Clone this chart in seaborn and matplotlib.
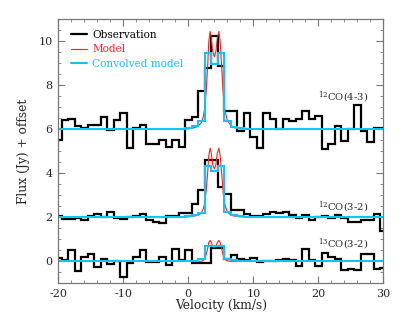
import numpy as np
import pandas as pd
import matplotlib
matplotlib.use("Agg")
import matplotlib.pyplot as plt
import seaborn as sns
from matplotlib.ticker import MultipleLocator

# ---------------- data ----------------
velocity = list(range(-20, 31))  # km/s, channel centres

obs_co43 = [5.50, 6.41, 6.48, 6.14, 6.06, 6.21, 6.18, 6.56, 5.96, 6.41,
            6.74, 5.16, 6.05, 6.18, 5.35, 5.31, 5.53, 5.20, 5.53, 5.20,
            6.41, 6.56, 7.74, 8.79, 10.23, 8.90, 6.83, 6.83, 5.93, 6.76,
            5.63, 5.13, 6.76, 6.46, 6.00, 6.46, 6.38, 6.48, 6.83, 6.46,
            6.61, 5.10, 5.33, 6.15, 5.48, 6.00, 7.09, 5.93, 5.43, 6.08, 6.08]
obs_co32 = [2.04, 1.91, 1.94, 1.97, 1.89, 2.07, 2.13, 2.00, 2.23, 1.97,
            1.91, 2.00, 2.07, 2.16, 1.86, 1.80, 1.74, 2.04, 2.07, 2.19,
            2.21, 2.62, 3.24, 4.60, 4.60, 3.36, 3.08, 2.31, 2.31, 2.16,
            2.04, 2.04, 2.16, 2.23, 2.18, 2.23, 2.10, 1.98, 2.12, 1.86,
            2.00, 2.04, 1.98, 2.12, 1.95, 1.78, 1.78, 1.88, 1.88, 2.16, 1.40]
obs_13co32 = [0.15, 0.08, 0.50, -0.45, 0.20, 0.35, -0.25, 0.12, -0.12, 0.02,
              -0.72, -0.06, 0.18, 0.50, -0.03, -0.05, 0.18, -0.18, 0.54, 0.05,
              0.50, -0.06, -0.06, -0.06, 0.62, 0.62, 0.12, 0.30, 0.12, 0.07,
              0.15, -0.03, 0.00, 0.00, 0.05, 0.12, 0.05, -0.20, 0.55, 0.05,
              -0.20, 0.40, 0.20, 0.12, -0.40, -0.35, -0.40, 0.35, 0.35, -0.35, -0.30]

conv_co43 = [6.00] * 19 + [6.02, 6.05, 6.15, 6.38, 9.47, 8.97, 9.47, 6.40, 6.12, 6.05, 6.02] + [6.00] * 21
conv_co32 = [2.00] * 18 + [2.01, 2.03, 2.06, 2.10, 2.20, 4.34, 4.09, 4.34, 2.22, 2.10, 2.06, 2.03, 2.01] + [2.00] * 20
conv_13co32 = [0.00] * 21 + [0.02, 0.10, 0.70, 0.70, 0.70, 0.12, 0.06, 0.03] + [0.00] * 22

model_v = [-20, 0.0, 1.0, 1.5, 2.0, 2.25, 2.5, 2.75, 3.0, 3.15, 3.35, 3.55, 3.75,
           4.0, 4.25, 4.45, 4.7, 4.9, 5.1, 5.35, 5.6, 6.0, 6.5, 7.0, 8.0, 30]
model_co43 = [6.0, 6.02, 6.08, 6.15, 6.30, 6.50, 6.90, 7.70, 9.00, 10.0, 10.45, 10.1, 9.55,
              9.30, 9.55, 10.1, 10.45, 10.0, 9.00, 7.70, 6.90, 6.40, 6.20, 6.08, 6.02, 6.0]
model_co32 = [2.0, 2.02, 2.06, 2.10, 2.20, 2.35, 2.60, 3.20, 4.10, 4.80, 5.14, 4.90, 4.40,
              4.20, 4.40, 4.90, 5.14, 4.80, 4.10, 3.20, 2.60, 2.25, 2.12, 2.06, 2.02, 2.0]
model_13co32 = [0.0, 0.0, 0.0, 0.0, 0.0, 0.03, 0.10, 0.30, 0.60, 0.85, 0.95, 0.85, 0.68,
                0.62, 0.68, 0.85, 0.95, 0.85, 0.60, 0.30, 0.10, 0.02, 0.0, 0.0, 0.0, 0.0]

line_labels = ["$^{12}$CO(4-3)", "$^{12}$CO(3-2)", "$^{13}$CO(3-2)"]
label_y = [7.45, 2.46, 0.77]

# ---------------- style ----------------
sns.set_style("ticks")
plt.rcParams["font.family"] = ["DejaVu Serif"]
plt.rcParams["axes.unicode_minus"] = False
plt.rcParams["mathtext.fontset"] = "dejavuserif"

c_obs = "#000000"
c_mod = "#ff2020"
c_conv = "#12c4f5"

fig = plt.figure(figsize=(4.02, 3.21), dpi=100)
ax = fig.add_axes([0.145, 0.1174, 0.8085, 0.8224])

obs_sets = [obs_co43, obs_co32, obs_13co32]
conv_sets = [conv_co43, conv_co32, conv_13co32]
mod_sets = [model_co43, model_co32, model_13co32]

for i in range(3):
    df_o = pd.DataFrame({"v": velocity, "f": obs_sets[i]})
    sns.lineplot(data=df_o, x="v", y="f", ax=ax, color=c_obs, lw=1.6,
                 drawstyle="steps-mid", estimator=None, sort=False,
                 label="Observation" if i == 0 else None, solid_joinstyle="miter")
for i in range(3):
    df_m = pd.DataFrame({"v": model_v, "f": mod_sets[i]})
    sns.lineplot(data=df_m, x="v", y="f", ax=ax, color=c_mod, lw=0.8,
                 estimator=None, sort=False, label="Model" if i == 0 else None)
for i in range(3):
    df_c = pd.DataFrame({"v": velocity, "f": conv_sets[i]})
    sns.lineplot(data=df_c, x="v", y="f", ax=ax, color=c_conv, lw=1.5,
                 drawstyle="steps-mid", estimator=None, sort=False,
                 label="Convolved model" if i == 0 else None, solid_joinstyle="miter")

for lab, yy in zip(line_labels, label_y):
    ax.text(20.0, yy, lab, ha="left", va="center", fontsize=7.2)

ax.set_xlim(-20, 30)
ax.set_ylim(-1, 11)
ax.xaxis.set_major_locator(MultipleLocator(10))
ax.xaxis.set_minor_locator(MultipleLocator(2))
ax.yaxis.set_major_locator(MultipleLocator(2))
ax.yaxis.set_minor_locator(MultipleLocator(0.5))
ax.tick_params(which="both", direction="in", top=True, right=True,
               color="#777777", labelsize=8)
ax.tick_params(which="major", length=5, width=0.8, pad=4)
ax.tick_params(which="minor", length=2.5, width=0.6)
for s in ax.spines.values():
    s.set_color("#777777")
    s.set_linewidth(0.9)

ax.set_xlabel("Velocity (km/s)", fontsize=8.8, labelpad=0)
ax.set_ylabel("Flux (Jy) + offset", fontsize=8.8, labelpad=6)

leg = ax.legend(loc="upper left", bbox_to_anchor=(0.02, 0.985), frameon=False,
                fontsize=7.6, handlelength=1.5, handletextpad=0.5,
                labelspacing=0.45, borderaxespad=0.2)
for t, c in zip(leg.get_texts(), [c_obs, c_mod, c_conv]):
    t.set_color(c)

fig.savefig("out.png", dpi=100)
